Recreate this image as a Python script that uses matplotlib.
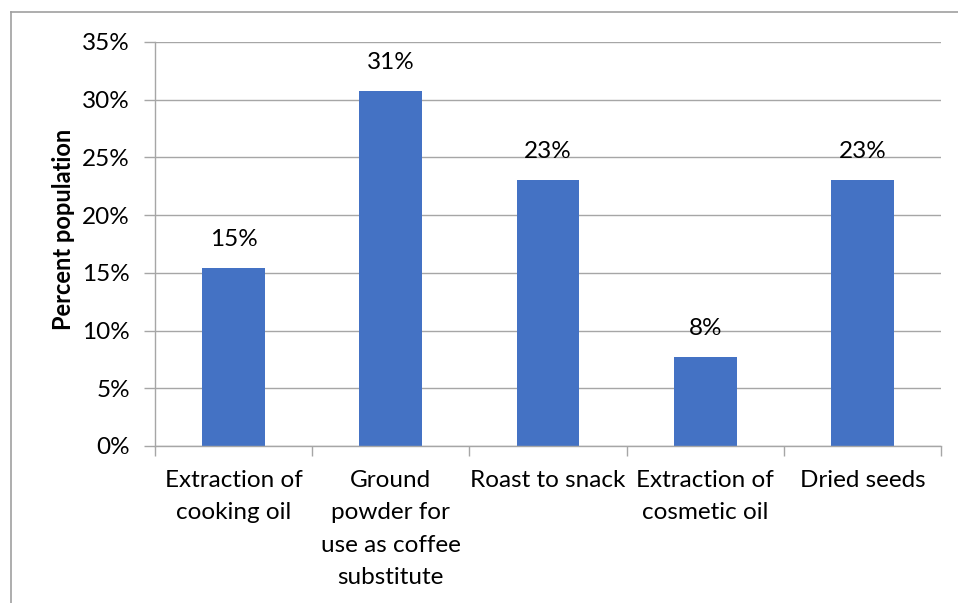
import matplotlib
matplotlib.use("Agg")
import matplotlib.pyplot as plt
from matplotlib.lines import Line2D
from matplotlib.ticker import FixedLocator, PercentFormatter

categories = [
    "Extraction of\ncooking oil",
    "Ground\npowder for\nuse as coffee\nsubstitute",
    "Roast to snack",
    "Extraction of\ncosmetic oil",
    "Dried seeds",
]
percent = [15.38, 30.77, 23.08, 7.69, 23.08]
y_ticks = [0, 5, 10, 15, 20, 25, 30, 35]

bar_color = "#4472C4"
grid_color = "#A6A6A6"
text_color = "#000000"

plt.rcParams["font.family"] = ["Lato", "DejaVu Sans"]

W, H = 958, 603
fig = plt.figure(figsize=(W / 100, H / 100), dpi=100)
ax = fig.add_axes([155 / W, 1 - 446 / H, (941 - 155) / W, (446 - 42) / H])

x = list(range(len(categories)))
bars = ax.bar(x, percent, width=0.4, color=bar_color, zorder=3)

for xi, v in zip(x, percent):
    ax.annotate(f"{v:.0f}%", (xi, v), xytext=(0, 13), textcoords="offset points",
                ha="center", va="bottom", fontsize=17.5, color=text_color)

ax.set_xlim(-0.5, len(categories) - 0.5)
ax.set_ylim(0, 35)
ax.yaxis.set_major_locator(FixedLocator(y_ticks))
ax.yaxis.set_major_formatter(PercentFormatter(decimals=0))
ax.grid(axis="y", color=grid_color, linewidth=1.0, zorder=0)

ax.set_xticks(x)
ax.set_xticklabels(categories, fontsize=17.5, color=text_color, linespacing=1.68)
ax.set_xticks([i - 0.5 for i in range(len(categories) + 1)], minor=True)
ax.tick_params(axis="x", which="major", length=0, pad=17)
ax.tick_params(axis="x", which="minor", length=7, color=grid_color, width=1.0)
ax.tick_params(axis="y", length=8, color=grid_color, width=1.0, labelsize=17.5,
               labelcolor=text_color, pad=10)

for side in ("top", "right"):
    ax.spines[side].set_visible(False)
for side in ("left", "bottom"):
    ax.spines[side].set_color(grid_color)
    ax.spines[side].set_linewidth(1.0)
    ax.spines[side].set_zorder(4)

ax.set_ylabel("Percent population", fontsize=17, fontweight="bold",
              color=text_color)
ax.yaxis.set_label_coords(-80 / (941 - 155), 0.535)

# chart frame
fig.add_artist(Line2D([10.5 / W, 10.5 / W], [0, 1 - 11.5 / H], color="#A0A0A0",
                      linewidth=1.2, transform=fig.transFigure))
fig.add_artist(Line2D([10.5 / W, 1], [1 - 11.5 / H, 1 - 11.5 / H], color="#A0A0A0",
                      linewidth=1.2, transform=fig.transFigure))

fig.savefig("out.png", dpi=100)
